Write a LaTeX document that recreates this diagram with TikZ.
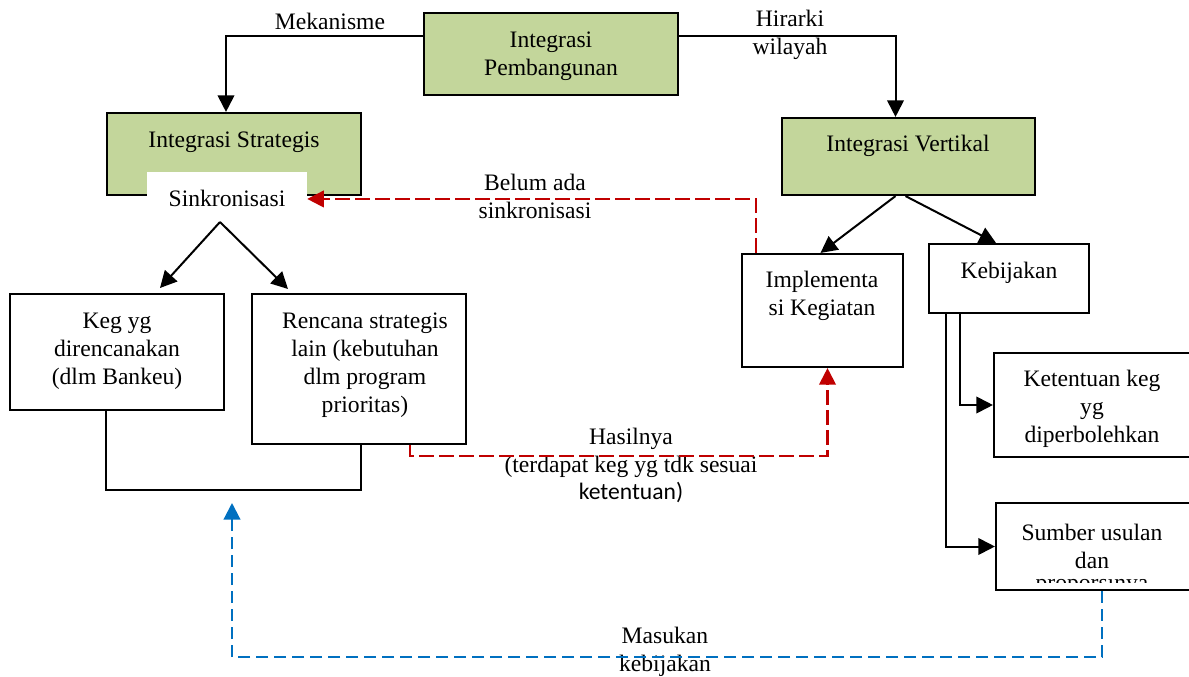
\documentclass[tikz,border=0pt]{standalone}
\usepackage{fontspec}
\setmainfont{Liberation Serif}
\newfontfamily\calibrifont{Carlito}
\usetikzlibrary{arrows.meta,fit}
\definecolor{boxgreen}{RGB}{195,214,155}
\definecolor{linkred}{RGB}{192,0,0}
\definecolor{linkblue}{RGB}{0,112,192}
\tikzset{
  box/.style={draw=black, line width=1.6pt, rectangle, inner sep=0pt},
  greenbox/.style={box, fill=boxgreen},
  txt/.style={font=\fontsize{17.7}{21}\selectfont, align=center, inner sep=0pt},
  conn/.style={draw=black, line width=1.5pt},
  tip/.style={-{Triangle[length=12.5pt,width=12.5pt]}},
  reddash/.style={draw=linkred, line width=1.6pt, dash pattern=on 11pt off 4pt},
  bluedash/.style={draw=linkblue, line width=1.6pt, dash pattern=on 9pt off 4.5pt},
}
\begin{document}
\begin{tikzpicture}[x=0.75pt,y=-0.75pt]
\useasboundingbox (0,0) rectangle (1189,677);
\clip (0,0) rectangle (1189,677);

% boxes
\node[greenbox, fit={(424,13) (678,95)}] (pemb) {};
\node[greenbox, fit={(107,113) (361,195)}] (strat) {};
\node[fill=white, inner sep=0pt, fit={(147,172) (307,215)}] (sink) {};
\node[greenbox, fit={(782,118) (1035,195)}] (vert) {};
\node[box, fit={(742,254) (903,367)}] (impl) {};
\node[box, fit={(929,244) (1089,313)}] (kebij) {};
\node[box, fit={(994,353) (1200,457)}] (keten) {};
\node[box, fit={(996,503) (1200,590)}] (sumber) {};
\node[box, fit={(10,294) (224,410)}] (keg) {};
\node[box, fit={(252,294) (466,444)}] (renc) {};

% box texts
\node[txt] (pembT) at (551,56) {Integrasi\\Pembangunan};
\node[txt] (stratT) at (234,142) {Integrasi Strategis};
\node[txt] (sinkT) at (227,198) {Sinkronisasi};
\node[txt] (vertT) at (908,146) {Integrasi Vertikal};
\node[txt] (implT) at (822,296) {Implementa\\si Kegiatan};
\node[txt] (kebijT) at (1009,273) {Kebijakan};
\node[txt] (ketenT) at (1092,409) {Ketentuan keg\\yg\\diperbolehkan};
\node[txt] (sumberT) at (1092,546) {Sumber usulan\\dan};
\begin{scope}
  \clip (1000,577.5) rectangle (1190,582);
  \node[txt, anchor=base] (sumberT2) at (1092,590) {proporsinya};
\end{scope}
\node[txt] (kegT) at (117,351) {Keg yg\\direncanakan\\(dlm Bankeu)};
\node[txt] (rencT) at (365,365) {Rencana strategis\\lain (kebutuhan\\dlm program\\prioritas)};

% connector labels
\node[txt] (lblMek) at (330,21) {Mekanisme};
\node[txt] (lblHir) at (790,35) {Hirarki\\wilayah};
\node[txt] (lblBelum) at (535,196) {Belum ada\\sinkronisasi};
\node[txt] (lblHas1) at (631,439) {Hasilnya};
\node[txt] (lblHas2) at (631,467) {(terdapat keg yg tdk sesuai};
\node[txt, font=\fontsize{17.7}{21}\selectfont\calibrifont] (lblHas3) at (631,493) {ketentuan)};
\node[txt] (lblMas) at (665,652) {Masukan\\kebijakan};

% free ends
\coordinate (apex) at (220,222);
\coordinate (tipL) at (160,288);
\coordinate (tipR) at (288,289);
\coordinate (inputTip) at (232,503);

% black connectors
\draw[conn,tip] ([yshift=13.5pt]pemb.west) -| ([xshift=-6pt]strat.north);
\draw[conn,tip] ([yshift=13.5pt]pemb.east) -| ([xshift=-9.75pt]vert.north);
\draw[conn,tip] ([xshift=-9.75pt]vert.south) -- ([xshift=-1.5pt]impl.north);
\draw[conn,tip] ([xshift=-2.25pt]vert.south) -- ([xshift=-9.75pt]kebij.north);
\draw[conn,tip] ([xshift=24pt]kebij.south west) |- (keten.west);
\draw[conn,tip] ([xshift=13.5pt]kebij.south west) |- (sumber.west);
\draw[conn,tip] (apex) -- (tipL);
\draw[conn,tip] (apex) -- (tipR);
\draw[conn] ([xshift=-8.25pt]keg.south) -- ++(0,79) -| ([xshift=1.5pt]renc.south);

% dashed feedback connectors
\draw[reddash,tip] ([xshift=11.25pt]impl.north west) |- ([yshift=-4.1pt]sink.east);
\draw[reddash,tip] ([xshift=-42.75pt]renc.south east) -- ++(0,11) -| ([xshift=3.75pt]impl.south);
\draw[bluedash,tip] ([xshift=3pt]sumber.south) -- ++(0,66) -| (inputTip);
\end{tikzpicture}
\end{document}
